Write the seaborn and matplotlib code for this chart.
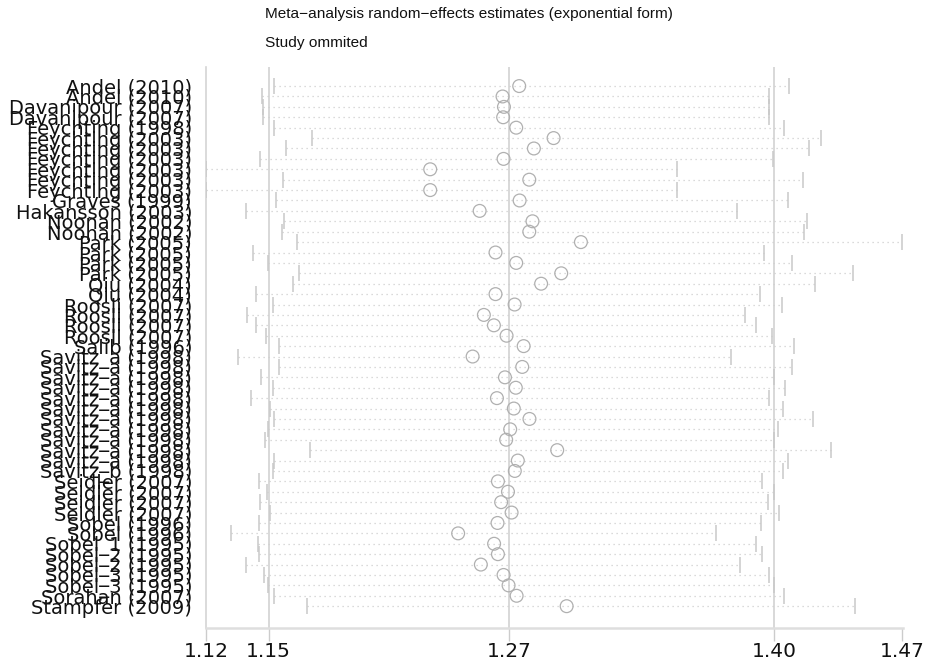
import matplotlib
matplotlib.use("Agg")
import matplotlib.pyplot as plt
import seaborn as sns
import pandas as pd

# study omitted in each row (top to bottom)
studies = (
    ["Andel (2010)"] * 2
    + ["Davanipour (2007)"] * 2
    + ["Feychting (1998)"]
    + ["Feychting (2003)"] * 6
    + ["Graves (1999)", "Hakansson (2003)"]
    + ["Noonan (2002)"] * 2
    + ["Park (2005)"] * 4
    + ["Qiu (2004)"] * 2
    + ["Roosli (2007)"] * 4
    + ["Salib (1996)"]
    + ["Savitz_a (1998)"] * 11
    + ["Savitz_b (1998)"]
    + ["Seidler (2007)"] * 4
    + ["Sobel (1996)"] * 2
    + ["Sobel_1 (1995)"]
    + ["Sobel_2 (1995)"] * 2
    + ["Sobel_3 (1995)"] * 2
    + ["Sorahan (2007)", "Stampfer (2009)"]
)

est = [1.2750, 1.2667, 1.2674, 1.2670, 1.2735, 1.2921, 1.2823, 1.2672, 1.2307, 1.2800,
       1.2307, 1.2752, 1.2553, 1.2816, 1.2800, 1.3057, 1.2632, 1.2735, 1.2959, 1.2859,
       1.2632, 1.2727, 1.2574, 1.2624, 1.2687, 1.2772, 1.2518, 1.2765, 1.2679, 1.2733,
       1.2639, 1.2723, 1.2801, 1.2705, 1.2685, 1.2939, 1.2743, 1.2728, 1.2644, 1.2694,
       1.2660, 1.2712, 1.2642, 1.2446, 1.2625, 1.2644, 1.2559, 1.2672, 1.2697, 1.2737,
       1.2986]

lower = [1.1531, 1.1468, 1.1476, 1.1476, 1.1529, 1.1717, 1.1589, 1.1461, 1.1191, 1.1573,
         1.1191, 1.1541, 1.1389, 1.1581, 1.1568, 1.1645, 1.1425, 1.1500, 1.1654, 1.1625,
         1.1441, 1.1523, 1.1395, 1.1438, 1.1488, 1.1554, 1.1352, 1.1554, 1.1466, 1.1523,
         1.1416, 1.1508, 1.1531, 1.1501, 1.1483, 1.1708, 1.1529, 1.1523, 1.1456, 1.1495,
         1.1461, 1.1509, 1.1456, 1.1314, 1.1450, 1.1455, 1.1390, 1.1480, 1.1498, 1.1528,
         1.1695]

upper = [1.4093, 1.3991, 1.3991, 1.3991, 1.4070, 1.4251, 1.4190, 1.4015, 1.3533, 1.4160,
         1.3533, 1.4088, 1.3836, 1.4181, 1.4165, 1.4655, 1.3966, 1.4110, 1.4411, 1.4224,
         1.3946, 1.4058, 1.3873, 1.3929, 1.4010, 1.4116, 1.3804, 1.4108, 1.4018, 1.4073,
         1.3994, 1.4063, 1.4211, 1.4040, 1.4017, 1.4302, 1.4087, 1.4065, 1.3957, 1.4018,
         1.3986, 1.4042, 1.3954, 1.3728, 1.3926, 1.3959, 1.3849, 1.3991, 1.4018, 1.4070,
         1.4423]

# overall random-effects estimate and its CI
overall_lo, overall_est, overall_hi = 1.1503, 1.2700, 1.4018
tick_labels = ["1.12", "1.15", "1.27", "1.40", "1.47"]

df = pd.DataFrame({"study": studies, "est": est, "lo": lower, "hi": upper})
df["row"] = range(len(df))

sns.set_style("white")
plt.rcParams["font.family"] = ["DejaVu Sans"]

fig = plt.figure(figsize=(9.27, 6.65), dpi=100)
ax = fig.add_axes([0.2222, 0.0556, 0.7519, 0.8436])

line_col = "#d2d2d2"
for v in (overall_lo, overall_est, overall_hi):
    ax.axvline(v, color=line_col, lw=1.2, zorder=1)

ax.hlines(df["row"], df["lo"], df["hi"], colors="#cfcfcf",
          linestyles=(0, (1, 3)), lw=0.9, zorder=2)

bars = pd.concat([df[["lo", "row"]].rename(columns={"lo": "x"}),
                  df[["hi", "row"]].rename(columns={"hi": "x"})])
sns.scatterplot(data=bars, x="x", y="row", marker="|", s=120,
                color="#c9c9c9", linewidth=1.1, ax=ax, zorder=3)

sns.scatterplot(data=df, x="est", y="row", marker="o", s=85,
                color="#b3b3b3", linewidth=0.9, ax=ax, zorder=4)
ax.collections[-1].set_facecolor("none")
ax.collections[-1].set_edgecolor("#b0b0b0")

ax.set_xlim(min(lower), 1.4660)
ax.set_ylim(52.1, -1.83)

ax.set_yticks(df["row"])
ax.set_yticklabels(df["study"], fontsize=14, color="#111111")
ax.tick_params(axis="y", length=0, pad=10)

xt = [min(lower), overall_lo, overall_est, overall_hi, max(upper)]
ax.set_xticks(xt)
ax.set_xticklabels(tick_labels, fontsize=14.5, color="#111111")
ax.tick_params(axis="x", length=9, width=1, color="#cccccc", pad=1, bottom=True)

ax.set_xlabel("")
ax.set_ylabel("")
for side in ("top", "right"):
    ax.spines[side].set_visible(False)
ax.spines["left"].set_color("#d4d4d4")
ax.spines["left"].set_linewidth(1.2)
ax.spines["bottom"].set_color("#dedede")
ax.spines["bottom"].set_linewidth(1.8)
ax.grid(False)

fig.text(265 / 927, 1 - 14 / 665, "Meta\u2212analysis random\u2212effects estimates (exponential form)",
         fontsize=11.1, family=["Liberation Sans", "DejaVu Sans"], color="#111111",
         ha="left", va="center")
fig.text(265 / 927, 1 - 43 / 665, "Study ommited",
         fontsize=11.1, family=["Liberation Sans", "DejaVu Sans"], color="#111111",
         ha="left", va="center")

fig.savefig("out.png", dpi=100)
